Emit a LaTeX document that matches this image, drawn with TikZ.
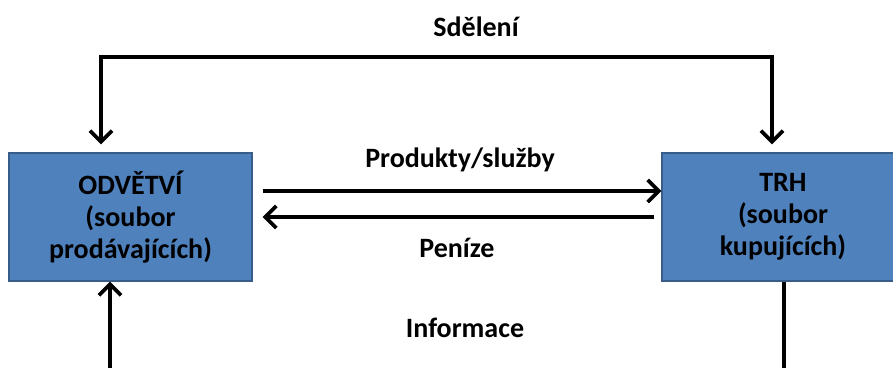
\documentclass[tikz,border=0pt]{standalone}
\usepackage{fontspec}
\setmainfont{Carlito}
\usetikzlibrary{arrows.meta}
\definecolor{boxblue}{HTML}{4F81BD}
\definecolor{boxedge}{HTML}{385D8A}
\begin{document}
\begin{tikzpicture}[x=1pt,y=1pt,
  box/.style={draw=boxedge,line width=1.2pt,fill=boxblue,minimum height=128pt,
    align=center,font=\fontsize{28}{32}\selectfont\bfseries,inner sep=0pt},
  lbl/.style={font=\fontsize{28}{32}\selectfont\bfseries,inner sep=0pt},
  conn/.style={line width=4pt,line join=miter},
  tip/.style={-{Straight Barb[length=11pt,width=22pt,line width=3.8pt]}}]
\useasboundingbox (0,0) rectangle (893,367);
\node[box,minimum width=243pt] (L) at (130.5,150) {ODVĚTVÍ\\(soubor\\prodávajících)};
\node[box,minimum width=242pt] (R) at (783,150) {TRH\\(soubor\\kupujících)};
\node[lbl] (sd) at (476,340) {Sdělení};
\node[lbl] (pr) at (460,207) {Produkty/služby};
\node[lbl] (pe) at (457,119) {Peníze};
\node[lbl] (in) at (465,39) {Informace};
\coordinate (lb) at (110,-5);
\coordinate (rb) at (784,-5);
\draw[conn,{Straight Barb[length=11pt,width=22pt,line width=3.8pt]}-{Straight Barb[length=11pt,width=22pt,line width=3.8pt]}]
  ([xshift=-29.5pt,yshift=8pt]L.north) -- ++(0,87) -| ([xshift=-11pt,yshift=8pt]R.north);
\draw[conn,tip] ([xshift=10pt,yshift=26pt]L.east) -- ([yshift=26pt]R.west);
\draw[conn,tip] ([xshift=-7pt]R.west) -- ([xshift=10pt]L.east);
\draw[conn,tip] (lb) -- ([xshift=-20.5pt]L.south);
\draw[conn] ([xshift=1pt]R.south) -- (rb);
\end{tikzpicture}
\end{document}
